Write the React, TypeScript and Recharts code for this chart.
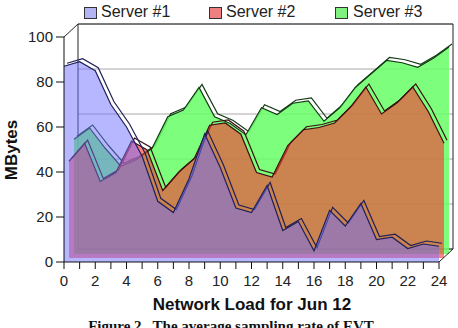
import { Area, AreaChart, CartesianGrid, ReferenceArea, ReferenceLine, XAxis, YAxis } from "recharts";

const hours = [0, 1, 2, 3, 4, 5, 6, 7, 8, 9, 10, 11, 12, 13, 14, 15, 16, 17, 18, 19, 20, 21, 22, 23, 24];
const server1 = [87, 89, 85, 70, 60, 47, 27, 22, 37, 57, 42, 24, 22, 34, 14, 18, 5, 23, 16, 26, 10, 11, 6, 8, 7];
const server2 = [43, 51, 34, 38, 52, 48, 30, 38, 44, 59, 60, 55, 38, 36, 50, 57, 58, 60, 67, 76, 64, 69, 76, 65, 51];
const server3 = [51, 56, 47, 39, 42, 47, 61, 64, 74, 61, 58, 53, 65, 62, 67, 68, 59, 65, 74, 80, 86, 85, 83, 87, 92];
const yTicks = [0, 20, 40, 60, 80, 100];

const data = hours.map((h, i) => ({ hour: h, s1: server1[i], s2: server2[i], s3: server3[i] }));

const W = 458;
const H = 328;
const M = { top: 37, right: 19, left: 64, bottom: 66 };
// 3d depth of the back wall, in px and in data units
const DEPTH_X = 14;
const DEPTH_Y = 13;
const depthU = DEPTH_X / ((W - M.left - M.right) / 24);
const depthV = DEPTH_Y / ((H - M.top - M.bottom) / 100);

const font = "'Liberation Sans', Arial, sans-serif";

// invisible series so the y scale exists in layers without real marks
const ghost = <Area type="linear" dataKey="s3" fill="none" stroke="none" isAnimationActive={false} />;

function Layer({ dx, dy, children }: { dx: number; dy: number; children: React.ReactNode }) {
  return (
    <div style={{ position: "absolute", left: dx, top: dy, width: W, height: H }}>
      <AreaChart width={W} height={H} data={data} margin={M}>
        <XAxis type="number" dataKey="hour" domain={[0, 24]} hide />
        <YAxis type="number" domain={[0, 100]} ticks={yTicks} hide />
        {children}
      </AreaChart>
    </div>
  );
}

function Slab({ dx, dy, k, fill, opacity, stroke }: { dx: number; dy: number; k: string; fill: string; opacity: number; stroke: string }) {
  return (
    <>
      <Layer dx={dx + 3} dy={dy - 3}>
        <Area type="linear" dataKey={k} fill="none" stroke={stroke} strokeWidth={1.2} isAnimationActive={false} />
      </Layer>
      <Layer dx={dx} dy={dy}>
        <Area type="linear" dataKey={k} fill={fill} fillOpacity={opacity} stroke={stroke} strokeWidth={1.2} isAnimationActive={false} />
      </Layer>
    </>
  );
}

const legend = [
  { name: "Server #1", color: "#b4b4f4", sq: 84, tx: 101 },
  { name: "Server #2", color: "#f08080", sq: 209, tx: 226 },
  { name: "Server #3", color: "#80f080", sq: 335, tx: 353 },
];

export default function App() {
  return (
    <div style={{ position: "absolute", left: 0, top: 0, width: W, height: H, overflow: "hidden", background: "#fff", fontFamily: font }}>
      {/* back wall */}
      <Layer dx={DEPTH_X} dy={-DEPTH_Y}>
        <CartesianGrid horizontal vertical={false} stroke="#a8a8a8" />
        <ReferenceArea x1={0} x2={24} y1={0} y2={100} fill="#fff" fillOpacity={0} stroke="#222" strokeWidth={1} ifOverflow="visible" />
        {ghost}
      </Layer>

      <Slab dx={10} dy={-8} k="s3" fill="#66ff66" opacity={0.85} stroke="#123a12" />
      <Slab dx={5} dy={-4} k="s2" fill="#ff3030" opacity={0.6} stroke="#3a1010" />
      <Slab dx={0} dy={0} k="s1" fill="#7070ff" opacity={0.5} stroke="#202058" />

      {/* axes on top */}
      <div style={{ position: "absolute", left: 0, top: 0 }}>
        <AreaChart width={W} height={H} data={data} margin={{ top: M.top, right: M.right, left: 0, bottom: 0 }}>
          <XAxis
            type="number"
            dataKey="hour"
            domain={[0, 24]}
            ticks={hours}
            interval={0}
            height={M.bottom}
            tickSize={7}
            tickMargin={6}
            tickFormatter={(v: number) => (v % 2 === 0 ? String(v) : "")}
            tick={{ fontSize: 15, fill: "#222", fontFamily: font }}
            stroke="#111"
          />
          <YAxis
            type="number"
            domain={[0, 100]}
            ticks={yTicks}
            interval={0}
            width={M.left}
            tickSize={8}
            tickMargin={3}
            tick={{ fontSize: 15, fill: "#222", fontFamily: font }}
            stroke="#111"
          />
          {ghost}
          <ReferenceLine segment={[{ x: 0, y: 100 }, { x: depthU, y: 100 + depthV }]} stroke="#222" ifOverflow="visible" />
          <ReferenceLine segment={[{ x: 24, y: 0 }, { x: 24 + depthU, y: depthV }]} stroke="#222" ifOverflow="visible" />
        </AreaChart>
      </div>

      {legend.map((l) => (
        <div key={l.name}>
          <div style={{ position: "absolute", left: l.sq, top: 7, width: 11, height: 10, background: l.color, border: "1px solid #333" }} />
          <div style={{ position: "absolute", left: l.tx, top: 4, fontSize: 16, lineHeight: "16px", color: "#222", whiteSpace: "nowrap" }}>{l.name}</div>
        </div>
      ))}

      <div style={{ position: "absolute", left: 12 - 50, top: 150 - 10, width: 100, height: 20, lineHeight: "20px", textAlign: "center", transform: "rotate(-90deg)", fontSize: 17, fontWeight: "bold", color: "#111" }}>
        MBytes
      </div>
      <div style={{ position: "absolute", left: 52, top: 296, width: 400, textAlign: "center", fontSize: 17, lineHeight: "17px", fontWeight: "bold", color: "#111", whiteSpace: "nowrap" }}>
        Network Load for Jun 12
      </div>
      <div style={{ position: "absolute", left: 31, top: 319, width: 400, textAlign: "center", fontSize: 15, lineHeight: "15px", fontWeight: "bold", fontFamily: "'Liberation Serif', 'Times New Roman', serif", color: "#111", whiteSpace: "nowrap" }}>
        Figure 2.&nbsp; The average sampling rate of EVT
      </div>
    </div>
  );
}
